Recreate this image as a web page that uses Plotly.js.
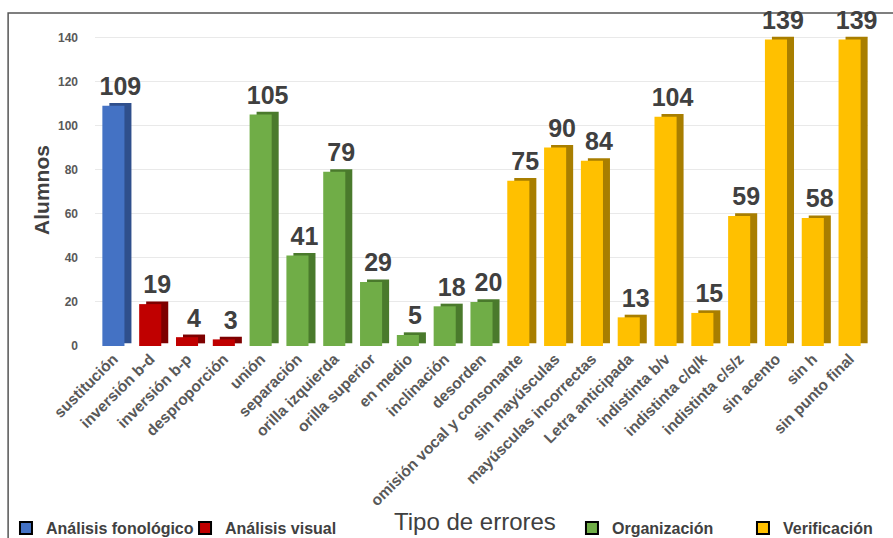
<!DOCTYPE html>
<html>
<head>
<meta charset="utf-8">
<script src="https://cdn.plot.ly/plotly-3.0.1.min.js"></script>
<style>html,body{margin:0;padding:0;background:#fff}#chart{width:893px;height:538px}</style>
</head>
<body>
<div id="chart"></div>
<script>
const categories = ["sustitución","inversión b-d","inversión b-p","desproporción","unión","separación","orilla izquierda","orilla superior","en medio","inclinación","desorden","omisión vocal y consonante","sin mayúsculas","mayúsculas incorrectas","Letra anticipada","indistinta b/v","indistinta c/q/k","indistinta c/s/z","sin acento","sin h","sin punto final"];
const values = [109,19,4,3,105,41,79,29,5,18,20,75,90,84,13,104,15,59,139,58,139];
const groups = ["Análisis fonológico","Análisis visual","Análisis visual","Análisis visual","Organización","Organización","Organización","Organización","Organización","Organización","Organización","Verificación","Verificación","Verificación","Verificación","Verificación","Verificación","Verificación","Verificación","Verificación","Verificación"];
const groupNames = ["Análisis fonológico","Análisis visual","Organización","Verificación"];
const frontColors = ["#4472C4","#C00000","#70AD47","#FFC000"];
const sideColors = ["#2F4F8C","#7E0000","#4A7A2C","#A87E00"];
const legendIds = ["legend","legend2","legend3","legend4"];
const xTitle = "Tipo de errores";
const yTitle = "Alumnos";

const font = "Liberation Sans, Arial, sans-serif";
const traces = [];
groupNames.forEach((g, gi) => {
  const xs = [], ys = [];
  categories.forEach((c, i) => { if (groups[i] === g) { xs.push(c); ys.push(values[i]); } });
  // side/depth of the 3D bar
  traces.push({
    type: "bar", x: xs, y: ys, base: 1.2, width: 0.6, offset: -0.11,
    marker: { color: sideColors[gi] }, showlegend: false, hoverinfo: "skip",
    text: ys.map(String), textposition: "outside", cliponaxis: false, constraintext: "none",
    textfont: { family: font, size: 25, color: "#404040", weight: "bold" }
  });
  // front face
  traces.push({
    type: "bar", x: xs, y: ys, width: 0.6, offset: -0.3,
    marker: { color: frontColors[gi] }, showlegend: false, name: g
  });
});
groupNames.forEach((g, gi) => {
  traces.push({
    type: "bar", x: [null], y: [null], name: g, legend: legendIds[gi],
    marker: { color: frontColors[gi], line: { color: "#000", width: 2 } }, showlegend: true
  });
});

const legendBase = {
  orientation: "h", xref: "container", yref: "container", yanchor: "middle", y: 0.0186, xanchor: "left",
  bgcolor: "rgba(0,0,0,0)", font: { family: font, size: 16, color: "#404040", weight: "bold" },
  itemwidth: 30, tracegroupgap: 0
};
const legendX = [0.0067, 0.2072, 0.6405, 0.832];

const layout = {
  width: 893, height: 538,
  margin: { l: 95, r: 25, t: 34, b: 192 },
  paper_bgcolor: "#fff", plot_bgcolor: "#fff",
  barmode: "overlay",
  font: { family: font, color: "#595959" },
  xaxis: {
    type: "category", categoryorder: "array", categoryarray: categories,
    range: [-0.5, categories.length - 0.5], automargin: false,
    tickangle: -45, showgrid: false, zeroline: false, showline: false, ticks: "",
    tickfont: { family: font, size: 15.5, color: "#595959", weight: "bold" }
  },
  yaxis: {
    range: [0, 141.5], tickvals: [0,20,40,60,80,100,120,140], showgrid: true, gridcolor: "#e9e9e9", gridwidth: 1, automargin: false,
    zeroline: false, showline: false, ticks: "", ticklabelstandoff: 16,
    tickfont: { family: font, size: 12, color: "#595959", weight: "bold" },
    title: { text: yTitle, standoff: 2, font: { family: font, size: 21, color: "#404040", weight: "bold" } }
  },
  annotations: [{
    text: xTitle, xref: "paper", yref: "paper", x: 0.4916, y: -0.564,
    xanchor: "center", yanchor: "middle", showarrow: false,
    font: { family: font, size: 24, color: "#404040" }
  }],
  shapes: [{
    type: "rect", xref: "paper", yref: "paper",
    x0: -0.1124, x1: 1.04, y0: -0.66, y1: 1.0673,
    line: { color: "#555", width: 1.5 }, fillcolor: "rgba(0,0,0,0)", layer: "below"
  }]
};
legendIds.forEach((id, i) => { layout[id] = Object.assign({}, legendBase, { x: legendX[i] }); });

Plotly.newPlot("chart", traces, layout, { displayModeBar: false, staticPlot: true });
</script>
</body>
</html>
